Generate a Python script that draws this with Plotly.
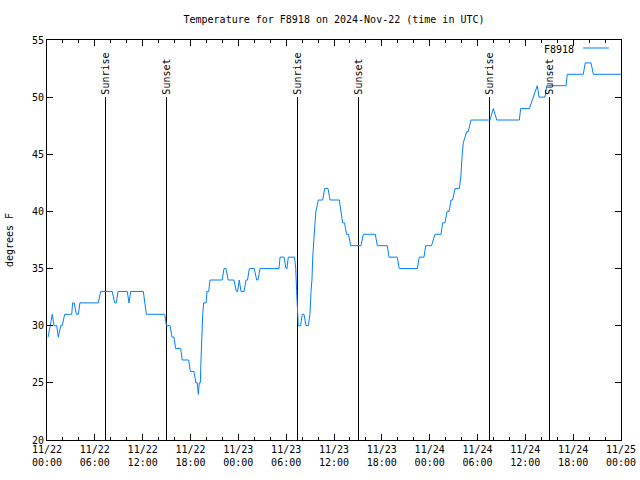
import plotly.graph_objects as go

# Temperature series (UTC times, degrees F)
times = [
    "2024-11-22 00:08", "2024-11-22 00:23", "2024-11-22 00:40", "2024-11-22 00:53",
    "2024-11-22 01:13", "2024-11-22 01:25", "2024-11-22 01:43", "2024-11-22 01:55",
    "2024-11-22 02:13", "2024-11-22 03:06", "2024-11-22 03:13", "2024-11-22 03:25",
    "2024-11-22 03:41", "2024-11-22 03:56", "2024-11-22 04:08", "2024-11-22 06:26",
    "2024-11-22 06:44", "2024-11-22 08:11", "2024-11-22 08:29", "2024-11-22 08:41",
    "2024-11-22 08:55", "2024-11-22 10:04", "2024-11-22 10:17", "2024-11-22 10:30",
    "2024-11-22 12:05", "2024-11-22 12:16", "2024-11-22 12:28", "2024-11-22 14:46",
    "2024-11-22 14:59", "2024-11-22 15:26", "2024-11-22 15:41", "2024-11-22 15:56",
    "2024-11-22 16:08", "2024-11-22 16:46", "2024-11-22 16:58", "2024-11-22 17:46",
    "2024-11-22 17:59", "2024-11-22 18:26", "2024-11-22 18:41", "2024-11-22 18:51",
    "2024-11-22 18:59", "2024-11-22 19:06", "2024-11-22 19:14", "2024-11-22 19:19",
    "2024-11-22 19:24", "2024-11-22 19:29", "2024-11-22 19:32", "2024-11-22 19:39",
    "2024-11-22 19:57", "2024-11-22 20:04", "2024-11-22 20:17", "2024-11-22 20:27",
    "2024-11-22 21:59", "2024-11-22 22:12", "2024-11-22 22:27", "2024-11-22 22:44",
    "2024-11-22 23:27", "2024-11-22 23:45", "2024-11-22 23:54", "2024-11-23 00:07",
    "2024-11-23 00:20", "2024-11-23 00:43", "2024-11-23 00:58", "2024-11-23 01:09",
    "2024-11-23 01:23", "2024-11-23 02:00", "2024-11-23 02:18", "2024-11-23 02:28",
    "2024-11-23 02:43", "2024-11-23 05:06", "2024-11-23 05:14", "2024-11-23 05:44",
    "2024-11-23 05:59", "2024-11-23 06:06", "2024-11-23 06:16", "2024-11-23 07:03",
    "2024-11-23 07:12", "2024-11-23 07:19", "2024-11-23 07:24", "2024-11-23 07:31",
    "2024-11-23 07:49", "2024-11-23 08:01", "2024-11-23 08:14", "2024-11-23 08:29",
    "2024-11-23 08:47", "2024-11-23 08:59", "2024-11-23 09:07", "2024-11-23 09:14",
    "2024-11-23 09:20", "2024-11-23 09:29", "2024-11-23 09:37", "2024-11-23 09:44",
    "2024-11-23 10:02", "2024-11-23 10:35", "2024-11-23 10:50", "2024-11-23 11:15",
    "2024-11-23 11:30", "2024-11-23 12:40", "2024-11-23 12:55", "2024-11-23 13:05",
    "2024-11-23 13:19", "2024-11-23 13:35", "2024-11-23 13:49", "2024-11-23 14:06",
    "2024-11-23 15:23", "2024-11-23 15:41", "2024-11-23 17:11", "2024-11-23 17:26",
    "2024-11-23 18:41", "2024-11-23 18:54", "2024-11-23 19:56", "2024-11-23 20:11",
    "2024-11-23 22:27", "2024-11-23 22:42", "2024-11-23 23:17", "2024-11-23 23:30",
    "2024-11-24 00:14", "2024-11-24 00:40", "2024-11-24 01:25", "2024-11-24 01:38",
    "2024-11-24 01:55", "2024-11-24 02:11", "2024-11-24 02:26", "2024-11-24 02:41",
    "2024-11-24 02:53", "2024-11-24 03:11", "2024-11-24 03:43", "2024-11-24 03:54",
    "2024-11-24 04:05", "2024-11-24 04:13", "2024-11-24 04:39", "2024-11-24 04:51",
    "2024-11-24 05:11", "2024-11-24 07:34", "2024-11-24 07:59", "2024-11-24 08:25",
    "2024-11-24 11:15", "2024-11-24 11:25", "2024-11-24 12:30", "2024-11-24 13:00",
    "2024-11-24 13:30", "2024-11-24 13:43", "2024-11-24 14:28", "2024-11-24 14:41",
    "2024-11-24 17:06", "2024-11-24 17:16", "2024-11-24 19:16", "2024-11-24 19:31",
    "2024-11-24 20:14", "2024-11-24 20:32", "2024-11-25 00:00",
]
temps = [
    29, 30, 31, 30, 30, 29, 30, 30,
    31, 31, 32, 32, 31, 31, 32, 32,
    33, 33, 32, 32, 33, 33, 32, 33,
    33, 32, 31, 31, 30, 30, 29, 29,
    28, 28, 27, 27, 26, 26, 25, 25,
    24, 25, 25, 27, 29, 30, 31, 32,
    32, 33, 33, 34, 34, 35, 35, 34,
    34, 33, 33, 34, 33, 33, 34, 34,
    35, 35, 34, 34, 35, 35, 36, 36,
    35, 35, 36, 36, 35, 33, 31, 30,
    30, 31, 31, 30, 30, 31, 33, 34,
    36, 38, 39, 40, 41, 41, 42, 42,
    41, 41, 40, 39, 39, 38, 38, 37,
    37, 38, 38, 37, 37, 36, 36, 35,
    35, 36, 36, 37, 37, 38, 38, 39,
    39, 40, 40, 41, 41, 42, 42, 43,
    45, 46, 47, 47, 48, 48, 49, 48,
    48, 49, 49, 50, 51, 50, 50, 51,
    51, 52, 52, 53, 53, 52, 52,
]

# Sunrise / sunset events
event_times = ["2024-11-22 07:20:17", "2024-11-22 14:59:22", "2024-11-23 07:25:18",
               "2024-11-23 15:04:24", "2024-11-24 07:30:19", "2024-11-24 15:01:53"]
event_names = ["Sunrise", "Sunset", "Sunrise", "Sunset", "Sunrise", "Sunset"]
event_low, event_high = 20, 50

# Axis ticks
x_tickvals = ["2024-11-22 00:00", "2024-11-22 06:00", "2024-11-22 12:00", "2024-11-22 18:00",
              "2024-11-23 00:00", "2024-11-23 06:00", "2024-11-23 12:00", "2024-11-23 18:00",
              "2024-11-24 00:00", "2024-11-24 06:00", "2024-11-24 12:00", "2024-11-24 18:00",
              "2024-11-25 00:00"]
x_ticktext = ["11/22<br>00:00", "11/22<br>06:00", "11/22<br>12:00", "11/22<br>18:00",
              "11/23<br>00:00", "11/23<br>06:00", "11/23<br>12:00", "11/23<br>18:00",
              "11/24<br>00:00", "11/24<br>06:00", "11/24<br>12:00", "11/24<br>18:00",
              "11/25<br>00:00"]
y_tickvals = [20, 25, 30, 35, 40, 45, 50, 55]

FONT = "DejaVu Sans Mono"
LINE_COLOR = "rgb(0,128,255)"

fig = go.Figure()

for t in event_times:
    fig.add_trace(go.Scatter(x=[t, t], y=[event_low, event_high], mode="lines",
                             line=dict(color="black", width=1), showlegend=False,
                             hoverinfo="skip"))

fig.add_trace(go.Scatter(x=times, y=temps, mode="lines", name="F8918",
                         line=dict(color=LINE_COLOR, width=1), showlegend=False))

for t, n in zip(event_times, event_names):
    fig.add_annotation(x=t, y=event_high, xref="x", yref="y", text=n, textangle=-90,
                       showarrow=False, xanchor="center", yanchor="bottom",
                       font=dict(family=FONT, size=10, color="black"))

# Legend drawn gnuplot-style: text then sample line
fig.add_annotation(x=0.921, y=0.977, xref="paper", yref="paper", text="F8918",
                   showarrow=False, xanchor="right", yanchor="middle",
                   font=dict(family=FONT, size=10, color="black"))
fig.add_shape(type="line", xref="paper", yref="paper", x0=0.934, x1=0.979,
              y0=0.98, y1=0.98, line=dict(color=LINE_COLOR, width=1))

fig.add_annotation(x=-0.066, y=0.5, xref="paper", yref="paper", text="degrees F",
                   textangle=-90, showarrow=False, xanchor="center", yanchor="middle",
                   font=dict(family=FONT, size=10, color="black"))

fig.update_layout(
    width=640, height=480,
    margin=dict(l=47, r=19, t=40, b=40, autoexpand=False),
    paper_bgcolor="white", plot_bgcolor="white",
    font=dict(family=FONT, size=10, color="black"),
    title=dict(text="Temperature for F8918 on 2024-Nov-22 (time in UTC)",
               x=0.5, xref="paper", y=1 - 19 / 480, yanchor="middle",
               font=dict(family=FONT, size=10, color="black")),
    showlegend=False,
    xaxis=dict(type="date", range=["2024-11-22 00:00", "2024-11-25 00:00"],
               tickmode="array", tickvals=x_tickvals, ticktext=x_ticktext,
               ticks="inside", ticklen=6, tickcolor="black", showgrid=False,
               showline=True, linecolor="black", linewidth=1, mirror="ticks",
               zeroline=False, automargin=False,
               minor=dict(dtick=7200000, tick0="2024-11-22 00:00", ticks="inside",
                          ticklen=3, tickcolor="black", showgrid=False)),
    yaxis=dict(range=[20, 55], tickmode="array", tickvals=y_tickvals,
               ticks="inside", ticklen=6, tickcolor="black", showgrid=False,
               showline=True, linecolor="black", linewidth=1, mirror="ticks",
               zeroline=False, automargin=False),
)

fig.write_html("out.html")
